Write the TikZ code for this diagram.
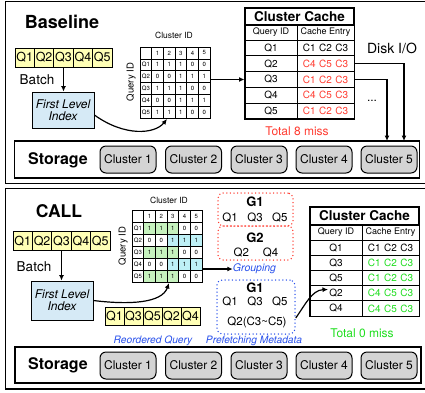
\documentclass[tikz,border=0pt]{standalone}
\usepackage{fontspec}
\setmainfont{TeX Gyre Heros}
\usetikzlibrary{arrows.meta, positioning}

\definecolor{qyellow}{RGB}{255,255,182}
\definecolor{idxblue}{RGB}{214,234,246}
\definecolor{missred}{RGB}{255,59,48}
\definecolor{hitgreen}{RGB}{30,222,30}
\definecolor{grpgreen}{RGB}{198,242,190}
\definecolor{grpcyan}{RGB}{190,240,246}
\definecolor{noteblue}{RGB}{40,80,235}
\definecolor{storgray}{RGB}{212,212,212}

\newcommand{\fsz}[1]{\fontsize{#1}{#1}\selectfont}
\newcommand{\centry}[3]{#1\hspace{3.5pt}#2\hspace{3.5pt}#3}

\tikzset{
  panel/.style={draw, line width=1.4pt},
  arr/.style={line width=1.2pt, -{Latex[length=5.5pt,width=5pt]}},
  qcell/.style={draw, line width=0.8pt, fill=qyellow, minimum width=19.4pt, minimum height=19pt, inner sep=0pt, font=\fsz{12.5}},
  idxbox/.style={draw, line width=0.8pt, fill=idxblue, minimum width=62pt, minimum height=37pt, align=center, font=\fsz{12}\itshape},
  storebox/.style={draw, line width=1.4pt, minimum width=405pt, minimum height=37pt},
  clusterbox/.style={draw, line width=1pt, fill=storgray, rounded corners=6pt, minimum width=56pt, minimum height=27pt, inner sep=0pt, font=\fsz{12}},
  mcell/.style={inner sep=0pt, font=\fsz{6}},
  titlecell/.style={draw, line width=1.2pt, minimum width=109pt, minimum height=17pt, inner sep=0pt, font=\fsz{13.5}\bfseries},
  headcell/.style={draw, line width=1pt, minimum height=15pt, inner sep=0pt, font=\fsz{9}},
  qidcell/.style={draw, line width=1pt, minimum width=52pt, minimum height=15.5pt, inner sep=0pt, font=\fsz{10}},
  entcell/.style={draw, line width=1pt, minimum width=57pt, minimum height=15.5pt, inner sep=0pt, font=\fsz{10}},
  reddots/.style={draw=missred, line width=1.5pt, dash pattern=on 0pt off 3.6pt, line cap=round, rounded corners=5pt},
  bluedots/.style={draw=noteblue, line width=1.5pt, dash pattern=on 0pt off 3.6pt, line cap=round, rounded corners=5pt},
  note/.style={text=noteblue, font=\fsz{10.2}\itshape, inner sep=0pt},
}

\begin{document}
\begin{tikzpicture}[x=1pt, y=-1pt]
\useasboundingbox (0,0) rectangle (425,392);

% ---------------- Baseline ----------------
\draw[panel] (5.5,1.5) rectangle (440,183.5);
\node[font=\fsz{18}\bfseries] (tbase) at (62,22) {Baseline};

\node[qcell] (tq1) at (24.7,57.5) {Q1};
\node[qcell] (tq2) at (44.1,57.5) {Q2};
\node[qcell] (tq3) at (63.5,57.5) {Q3};
\node[qcell] (tq4) at (82.9,57.5) {Q4};
\node[qcell] (tq5) at (102.3,57.5) {Q5};
\node[font=\fsz{13.5}, inner sep=0pt] (tbatch) at (37,80) {Batch};
\node[idxbox, minimum height=36pt] (tfli) at (63,110) {First Level\\Index};
\draw[arr] (tq3.south) -- (tq3.south |- tfli.north);

% cluster id matrix
\node[font=\fsz{8.5}] (tcid) at (174,35) {Cluster ID};
\node[font=\fsz{9.5}, rotate=90] (tqid) at (131,82) {Query ID};
\node[draw, line width=0.8pt, minimum width=70pt, minimum height=71pt, inner sep=0pt, anchor=north west] (tmat) at (140,47) {};
\foreach \k in {1,...,5} {
  \draw[line width=0.5pt] ({140+\k*11.667},47) -- ({140+\k*11.667},118);
  \draw[line width=0.5pt] (140,{47+\k*11.833}) -- (210,{47+\k*11.833});
}
\foreach \c in {1,...,5}
  \node[mcell] (th\c) at ({140+(\c+0.5)*11.667},{47+0.5*11.833}) {\c};
\foreach \r in {1,...,5}
  \node[mcell] (tl\r) at ({140+0.5*11.667},{47+(\r+0.5)*11.833}) {Q\r};
\foreach \r/\vals in {1/{1,1,1,0,0}, 2/{0,0,1,1,1}, 3/{1,1,1,0,0}, 4/{0,0,1,1,1}, 5/{1,1,1,0,0}}
  \foreach \v [count=\c] in \vals
    \node[mcell] (tm\r\c) at ({140+(\c+0.5)*11.667},{47+(\r+0.5)*11.833}) {\v};

\coordinate (tin) at (167,119);
\draw[arr] ([yshift=-5pt]tfli.east) .. controls (125,137) and (155,134) .. (tin);

% cluster cache
\node[titlecell] (tttl) at (299.5,16.5) {Cluster Cache};
\node[headcell, minimum width=52pt] (thq) at (271,32.5) {Query ID};
\node[headcell, minimum width=57pt] (the) at (325.5,32.5) {Cache Entry};
\node[qidcell] (tr1) at (271,47.9) {Q1};
\node[entcell] (te1) at (325.5,47.9) {\centry{C1}{C2}{C3}};
\node[qidcell] (tr2) at (271,63.7) {Q2};
\node[entcell] (te2) at (325.5,63.7) {\centry{\color{missred}C4}{\color{missred}C5}{C3}};
\node[qidcell] (tr3) at (271,79.5) {Q3};
\node[entcell] (te3) at (325.5,79.5) {\centry{\color{missred}C1}{\color{missred}C2}{C3}};
\node[qidcell] (tr4) at (271,95.3) {Q4};
\node[entcell] (te4) at (325.5,95.3) {\centry{\color{missred}C4}{\color{missred}C5}{C3}};
\node[qidcell] (tr5) at (271,111.1) {Q5};
\node[entcell] (te5) at (325.5,111.1) {\centry{\color{missred}C1}{\color{missred}C2}{C3}};
\draw[line width=1.4pt] (tttl.north west) rectangle (te5.south east);
\draw[arr] (tmat.east |- tr3.west) -- (tr3.west);

\node[font=\fsz{14}] (tdisk) at (392,48) {Disk I/O};
\node[font=\fsz{12}] (tdots) at (372,101) {...};
\node[text=missred, font=\fsz{12}] (tmiss) at (297,131) {Total 8 miss};

% storage
\node[storebox] (tstor) at (217,159.5) {};
\node[font=\fsz{16}\bfseries] (tstorlbl) at (58,160) {Storage};
\node[clusterbox] (tc1) at (128,159.5) {Cluster 1};
\node[clusterbox] (tc2) at (193.5,159.5) {Cluster 2};
\node[clusterbox] (tc3) at (259,159.5) {Cluster 3};
\node[clusterbox] (tc4) at (324,159.5) {Cluster 4};
\node[clusterbox] (tc5) at (389,159.5) {Cluster 5};
\coordinate (tio1) at (404,141);
\coordinate (tio2) at (387,141);
\draw[arr] (te2.east) -| (tio1);
\draw[arr] (te3.east) -| (tio2);

% ---------------- CALL ----------------
\draw[panel] (5.5,188.5) rectangle (440,389);
\node[font=\fsz{17.5}\bfseries] (bcall) at (59,211) {CALL};

\node[qcell, minimum height=18.5pt] (bq1) at (22.7,241) {Q1};
\node[qcell, minimum height=18.5pt] (bq2) at (42.1,241) {Q2};
\node[qcell, minimum height=18.5pt] (bq3) at (61.5,241) {Q3};
\node[qcell, minimum height=18.5pt] (bq4) at (80.9,241) {Q4};
\node[qcell, minimum height=18.5pt] (bq5) at (100.3,241) {Q5};
\node[font=\fsz{13.5}, inner sep=0pt] (bbatch) at (34,267) {Batch};
\node[idxbox, minimum height=39pt] (bfli) at (62,300.5) {First Level\\Index};
\draw[arr] (bq3.south) -- (bq3.south |- bfli.north);

% cluster id matrix with groups
\node[font=\fsz{8.5}] (bcid) at (169,200) {Cluster ID};
\node[font=\fsz{9.5}, rotate=90] (bqid) at (123,246) {Query ID};
\foreach \r in {1,3,5}
  \fill[grpgreen] ({132+11.667},{210+\r*12}) rectangle ({132+4*11.667},{210+(\r+1)*12});
\foreach \r in {2,4}
  \fill[grpcyan] ({132+3*11.667},{210+\r*12}) rectangle (202,{210+(\r+1)*12});
\node[draw, line width=0.8pt, minimum width=70pt, minimum height=72pt, inner sep=0pt, anchor=north west] (bmat) at (132,210) {};
\foreach \k in {1,...,5} {
  \draw[line width=0.5pt] ({132+\k*11.667},210) -- ({132+\k*11.667},282);
  \draw[line width=0.5pt] (132,{210+\k*12}) -- (202,{210+\k*12});
}
\foreach \c in {1,...,5}
  \node[mcell] (bh\c) at ({132+(\c+0.5)*11.667},{210+0.5*12}) {\c};
\foreach \r in {1,...,5}
  \node[mcell] (bl\r) at ({132+0.5*11.667},{210+(\r+0.5)*12}) {Q\r};
\foreach \r/\vals in {1/{1,1,1,0,0}, 2/{0,0,1,1,1}, 3/{1,1,1,0,0}, 4/{0,0,1,1,1}, 5/{1,1,1,0,0}}
  \foreach \v [count=\c] in \vals
    \node[mcell] (bm\r\c) at ({132+(\c+0.5)*11.667},{210+(\r+0.5)*12}) {\v};

\coordinate (bin) at (169,283);
\draw[arr] (bfli.east) .. controls (130,305) and (162,303) .. (bin);

\node[note, font=\fsz{10.5}\itshape] (bgrp) at (254.5,269) {Grouping};
\draw[arr] (bmat.east |- bgrp.west) -- (bgrp.west);

% groups
\node[reddots, minimum width=75pt, minimum height=33pt] (bg1) at (255.5,209.5) {};
\node[reddots, minimum width=75pt, minimum height=34pt] (bg2) at (255.5,243) {};
\node[font=\fsz{13}\bfseries] (bg1t) at (255,202) {G1};
\node[font=\fsz{11.5}] (bg1q) at (255,218) {Q1\hspace{9.5pt}Q3\hspace{9.5pt}Q5};
\node[font=\fsz{13}\bfseries] (bg2t) at (255,237.5) {G2};
\node[font=\fsz{11.5}] (bg2q) at (256,253) {Q2\hspace{14pt}Q4};

\node[bluedots, minimum width=78pt, minimum height=54pt] (bgp) at (256,307) {};
\node[font=\fsz{13}\bfseries] (bgpt) at (255,288) {G1};
\node[font=\fsz{11.5}] (bgpq) at (255,302) {Q1\hspace{9.5pt}Q3\hspace{9.5pt}Q5};
\node[font=\fsz{11.5}] (bgpm) at (257,322) {Q2(C3\textasciitilde C5)};

% reordered queries
\node[qcell, minimum width=19pt, minimum height=18pt] (bo1) at (114.5,316) {Q1};
\node[qcell, minimum width=19pt, minimum height=18pt] (bo2) at (133.5,316) {Q3};
\node[qcell, minimum width=19pt, minimum height=18pt] (bo3) at (152.5,316) {Q5};
\node[qcell, minimum width=19pt, minimum height=18pt] (bo4) at (171.5,316) {Q2};
\node[qcell, minimum width=19pt, minimum height=18pt] (bo5) at (190.5,316) {Q4};
\node[note] (breo) at (153,341) {Reordered Query};
\node[note] (bpf) at (254,341) {Prefetching Metadata};

% cluster cache
\node[titlecell, minimum height=18pt] (bttl) at (364.5,216) {Cluster Cache};
\node[headcell, minimum width=52pt] (bhq) at (336,232.5) {Query ID};
\node[headcell, minimum width=57pt] (bhe) at (390.5,232.5) {Cache Entry};
\node[qidcell, minimum height=15.2pt] (br1) at (336,247.6) {Q1};
\node[entcell, minimum height=15.2pt] (be1) at (390.5,247.6) {\centry{C1}{C2}{C3}};
\node[qidcell, minimum height=15.2pt] (br2) at (336,262.8) {Q3};
\node[entcell, minimum height=15.2pt] (be2) at (390.5,262.8) {\centry{\color{hitgreen}C1}{\color{hitgreen}C2}{C3}};
\node[qidcell, minimum height=15.2pt] (br3) at (336,278) {Q5};
\node[entcell, minimum height=15.2pt] (be3) at (390.5,278) {\centry{\color{hitgreen}C1}{\color{hitgreen}C2}{C3}};
\node[qidcell, minimum height=15.2pt] (br4) at (336,293.2) {Q2};
\node[entcell, minimum height=15.2pt] (be4) at (390.5,293.2) {\centry{\color{hitgreen}C4}{\color{hitgreen}C5}{C3}};
\node[qidcell, minimum height=15.2pt] (br5) at (336,308.4) {Q4};
\node[entcell, minimum height=15.2pt] (be5) at (390.5,308.4) {\centry{\color{hitgreen}C4}{\color{hitgreen}C5}{C3}};
\draw[line width=1.4pt] (bttl.north west) rectangle (be5.south east);
\node[text=hitgreen, font=\fsz{12}] (bmiss) at (362,333) {Total 0 miss};

\coordinate (bpre) at (328,289.5);
\draw[arr] ([yshift=-11pt]bgp.east) .. controls (305,305) and (312,290) .. (bpre);

% storage
\node[storebox, minimum width=406pt, minimum height=36pt] (bstor) at (218,365) {};
\node[font=\fsz{16}\bfseries] (bstorlbl) at (58,365) {Storage};
\node[clusterbox] (bc1) at (128,365.5) {Cluster 1};
\node[clusterbox] (bc2) at (193.5,365.5) {Cluster 2};
\node[clusterbox] (bc3) at (259,365.5) {Cluster 3};
\node[clusterbox] (bc4) at (324,365.5) {Cluster 4};
\node[clusterbox] (bc5) at (389,365.5) {Cluster 5};

\end{tikzpicture}
\end{document}
